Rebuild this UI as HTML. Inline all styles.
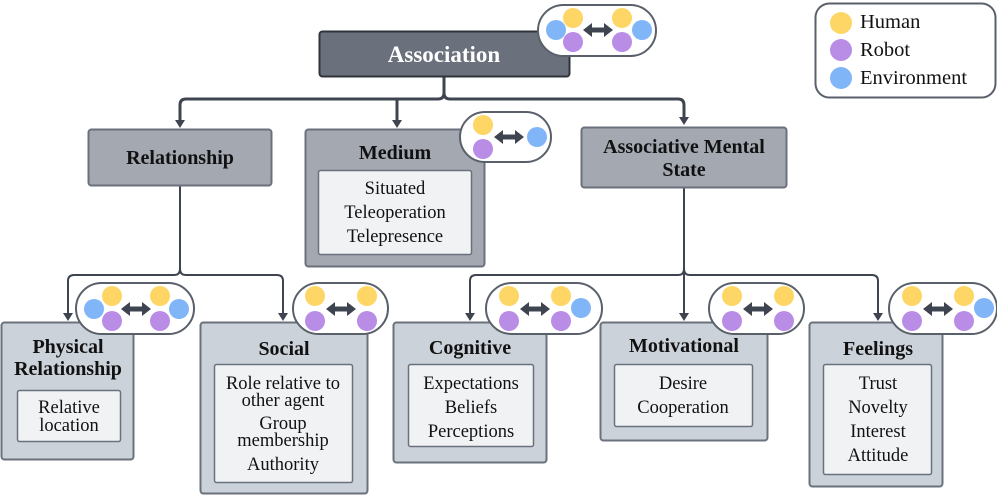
<!DOCTYPE html>
<html><head><meta charset="utf-8"><style>
html,body{margin:0;padding:0;background:#fff;}
svg{display:block;}
text{font-family:"Liberation Serif",serif;fill:#111;text-anchor:middle;}
.t{font-weight:bold;font-size:20px;}
.i{font-size:18.5px;}
</style></head><body>
<svg width="997" height="495" viewBox="0 0 997 495" xmlns="http://www.w3.org/2000/svg">
<g fill="none" stroke="#3f4550" stroke-linecap="round">
<path d="M444,77 V93 Q444,99 438,99 H186 Q180,99 180,105 V120" stroke-width="3"/>
<path d="M444,93 Q444,99 450,99 H678 Q684,99 684,105 V117" stroke-width="3"/>
<path d="M397,99 V120" stroke-width="3"/>
<path d="M175,120 L180,128 L185,120 z" fill="#3f4550" stroke="none"/>
<path d="M392,120 L397,128 L402,120 z" fill="#3f4550" stroke="none"/>
<path d="M679,117 L684,125 L689,117 z" fill="#3f4550" stroke="none"/>
<path d="M180,186 V269 Q180,275 174,275 H74 Q68,275 68,281 V314" stroke-width="2"/>
<path d="M180,269 Q180,275 186,275 H277 Q283,275 283,281 V314" stroke-width="2"/>
<path d="M63,313 L68,321 L73,313 z" fill="#3f4550" stroke="none"/>
<path d="M278,313 L283,321 L288,313 z" fill="#3f4550" stroke="none"/>
<path d="M684,188 V269 Q684,275 678,275 H476 Q470,275 470,281 V314" stroke-width="2"/>
<path d="M684,269 Q684,275 690,275 H872 Q878,275 878,281 V314" stroke-width="2"/>
<path d="M684,269 V314" stroke-width="2"/>
<path d="M465,313 L470,321 L475,313 z" fill="#3f4550" stroke="none"/>
<path d="M679,313 L684,321 L689,313 z" fill="#3f4550" stroke="none"/>
<path d="M873,313 L878,321 L883,313 z" fill="#3f4550" stroke="none"/>
</g>

<rect x="319.5" y="31.5" width="250" height="45" rx="3" fill="#6b717c" stroke="#2f343b" stroke-width="2"/>
<text x="444" y="62" style="font-weight:bold;font-size:23px;fill:#fff">Association</text>

<rect x="88.5" y="129.5" width="183" height="56" rx="3" fill="#a3a8b1" stroke="#6b717c" stroke-width="2"/>
<text class="t" x="180" y="164">Relationship</text>

<rect x="305.5" y="129.5" width="179" height="137" rx="3" fill="#a3a8b1" stroke="#6b717c" stroke-width="2"/>
<text class="t" x="395" y="159">Medium</text>
<rect x="318.5" y="170.5" width="153" height="84" rx="2" fill="#f1f2f4" stroke="#6b717c" stroke-width="1.5"/>
<text class="i" x="395" y="194">Situated</text>
<text class="i" x="395" y="218">Teleoperation</text>
<text class="i" x="395" y="242">Telepresence</text>

<rect x="581.5" y="127.5" width="205" height="60" rx="3" fill="#a3a8b1" stroke="#6b717c" stroke-width="2"/>
<text class="t" x="684" y="153">Associative Mental</text>
<text class="t" x="684" y="176">State</text>

<rect x="1.5" y="322.5" width="132" height="137" rx="3" fill="#cbd2da" stroke="#6b717c" stroke-width="2"/>
<text class="t" x="68" y="353">Physical</text>
<text class="t" x="68" y="375">Relationship</text>
<rect x="17.5" y="390.5" width="103" height="51" rx="2" fill="#f1f2f4" stroke="#6b717c" stroke-width="1.5"/>
<text class="i" x="69" y="413">Relative</text>
<text class="i" x="69" y="431">location</text>

<rect x="200.5" y="322.5" width="167" height="171" rx="3" fill="#cbd2da" stroke="#6b717c" stroke-width="2"/>
<text class="t" x="284" y="355">Social</text>
<rect x="214.5" y="364.5" width="138" height="118" rx="2" fill="#f1f2f4" stroke="#6b717c" stroke-width="1.5"/>
<text class="i" x="283" y="389">Role relative to</text>
<text class="i" x="283" y="406">other agent</text>
<text class="i" x="283" y="429">Group</text>
<text class="i" x="283" y="446">membership</text>
<text class="i" x="283" y="470">Authority</text>

<rect x="393.5" y="322.5" width="153" height="140" rx="3" fill="#cbd2da" stroke="#6b717c" stroke-width="2"/>
<text class="t" x="470" y="354">Cognitive</text>
<rect x="408.5" y="364.5" width="125" height="82" rx="2" fill="#f1f2f4" stroke="#6b717c" stroke-width="1.5"/>
<text class="i" x="471" y="389">Expectations</text>
<text class="i" x="471" y="413">Beliefs</text>
<text class="i" x="471" y="437">Perceptions</text>

<rect x="600.5" y="322.5" width="167" height="118" rx="3" fill="#cbd2da" stroke="#6b717c" stroke-width="2"/>
<text class="t" x="684" y="352">Motivational</text>
<rect x="614.5" y="364.5" width="138" height="62" rx="2" fill="#f1f2f4" stroke="#6b717c" stroke-width="1.5"/>
<text class="i" x="683" y="389">Desire</text>
<text class="i" x="683" y="413">Cooperation</text>

<rect x="809.5" y="322.5" width="133" height="164" rx="3" fill="#cbd2da" stroke="#6b717c" stroke-width="2"/>
<text class="t" x="878" y="355">Feelings</text>
<rect x="823.5" y="364.5" width="108" height="110" rx="2" fill="#f1f2f4" stroke="#6b717c" stroke-width="1.5"/>
<text class="i" x="878" y="389">Trust</text>
<text class="i" x="878" y="413">Novelty</text>
<text class="i" x="878" y="437">Interest</text>
<text class="i" x="878" y="461">Attitude</text>

<g stroke="#5a606a" stroke-width="2" fill="#fff">
<rect x="538" y="5" width="118" height="51" rx="25.5"/>
<rect x="460" y="112" width="91" height="50" rx="25"/>
<rect x="76" y="283" width="118" height="51" rx="25.5"/>
<rect x="293" y="283" width="95" height="51" rx="25.5"/>
<rect x="486" y="283" width="116" height="51" rx="25.5"/>
<rect x="709" y="283" width="95" height="51" rx="25.5"/>
<rect x="889" y="283" width="108" height="51" rx="25.5"/>
<rect x="815.5" y="3.5" width="180" height="94" rx="14"/>
</g>
<g>
<circle cx="556" cy="30" r="10" fill="#80b6f8"/><circle cx="573" cy="18" r="10" fill="#fdd665"/><circle cx="573" cy="42" r="10" fill="#b98ce6"/>
<circle cx="622" cy="18" r="10" fill="#fdd665"/><circle cx="622" cy="42" r="10" fill="#b98ce6"/><circle cx="642" cy="30" r="10" fill="#80b6f8"/>
<circle cx="483" cy="125" r="10" fill="#fdd665"/><circle cx="483" cy="149" r="10" fill="#b98ce6"/><circle cx="537" cy="137" r="10" fill="#80b6f8"/>
<circle cx="94" cy="309" r="10" fill="#80b6f8"/><circle cx="112" cy="296" r="10" fill="#fdd665"/><circle cx="112" cy="321" r="10" fill="#b98ce6"/>
<circle cx="160" cy="296" r="10" fill="#fdd665"/><circle cx="160" cy="321" r="10" fill="#b98ce6"/><circle cx="179" cy="309" r="10" fill="#80b6f8"/>
<circle cx="315" cy="296" r="10" fill="#fdd665"/><circle cx="315" cy="321" r="10" fill="#b98ce6"/>
<circle cx="367" cy="296" r="10" fill="#fdd665"/><circle cx="367" cy="321" r="10" fill="#b98ce6"/>
<circle cx="509" cy="296" r="10" fill="#fdd665"/><circle cx="509" cy="321" r="10" fill="#b98ce6"/>
<circle cx="561" cy="296" r="10" fill="#fdd665"/><circle cx="561" cy="321" r="10" fill="#b98ce6"/><circle cx="581" cy="308" r="10" fill="#80b6f8"/>
<circle cx="732" cy="296" r="10" fill="#fdd665"/><circle cx="732" cy="321" r="10" fill="#b98ce6"/>
<circle cx="784" cy="296" r="10" fill="#fdd665"/><circle cx="784" cy="321" r="10" fill="#b98ce6"/>
<circle cx="912" cy="296" r="10" fill="#fdd665"/><circle cx="912" cy="321" r="10" fill="#b98ce6"/>
<circle cx="964" cy="296" r="10" fill="#fdd665"/><circle cx="964" cy="321" r="10" fill="#b98ce6"/><circle cx="984" cy="308" r="10" fill="#80b6f8"/>
<circle cx="841" cy="23" r="11" fill="#fdd665"/><circle cx="841" cy="50" r="11" fill="#b98ce6"/><circle cx="841" cy="78" r="11" fill="#80b6f8"/>
</g>
<g fill="#3f4550">
<path d="M0,0 l9,-7 v4.5 h12 v-4.5 l9,7 l-9,7 v-4.5 h-12 v4.5 z" transform="translate(583,30)"/>
<path d="M0,0 l9,-7 v4.5 h12 v-4.5 l9,7 l-9,7 v-4.5 h-12 v4.5 z" transform="translate(494,137)"/>
<path d="M0,0 l9,-7 v4.5 h12 v-4.5 l9,7 l-9,7 v-4.5 h-12 v4.5 z" transform="translate(121,309)"/>
<path d="M0,0 l9,-7 v4.5 h12 v-4.5 l9,7 l-9,7 v-4.5 h-12 v4.5 z" transform="translate(326,309)"/>
<path d="M0,0 l9,-7 v4.5 h12 v-4.5 l9,7 l-9,7 v-4.5 h-12 v4.5 z" transform="translate(520,309)"/>
<path d="M0,0 l9,-7 v4.5 h12 v-4.5 l9,7 l-9,7 v-4.5 h-12 v4.5 z" transform="translate(743,309)"/>
<path d="M0,0 l9,-7 v4.5 h12 v-4.5 l9,7 l-9,7 v-4.5 h-12 v4.5 z" transform="translate(923,309)"/>
</g>
<text x="860" y="28" style="text-anchor:start;font-size:20.5px">Human</text>
<text x="860" y="56" style="text-anchor:start;font-size:20.5px">Robot</text>
<text x="860" y="84" style="text-anchor:start;font-size:20.5px">Environment</text>
</svg>
</body></html>
